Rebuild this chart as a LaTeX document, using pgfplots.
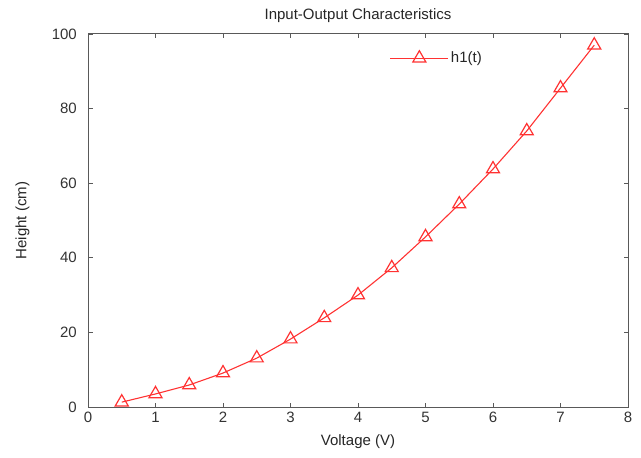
\documentclass[border=0pt]{standalone}
\usepackage{fontspec}
\setmainfont{Liberation Sans}
\usepackage{pgfplots}
\pgfplotsset{compat=1.18}
\definecolor{lred}{RGB}{255,50,50}
\begin{document}
\fontsize{15}{17}\selectfont
\begin{tikzpicture}[x=1pt,y=1pt]
\begin{axis}[
  name=ax,
  scale only axis,
  width=540pt, height=373pt,
  xmin=0, xmax=8, ymin=0, ymax=100,
  xtick={0,1,...,8}, ytick={0,20,...,100},
  /pgf/number format/assume math mode=true,
  tick label style={font=\fontsize{15}{17}\selectfont, black!80},
  yticklabel style={xshift=-6pt},
  label style={font=\fontsize{15}{17}\selectfont, black!85},
  title style={font=\fontsize{15}{17}\selectfont, yshift=0pt, black!85},
  title={Input-Output Characteristics},
  xlabel={Voltage (V)}, ylabel={Height (cm)},
  xlabel style={yshift=-2pt},
  ylabel style={yshift=12pt},
  tick align=inside,
  axis line style={black!65, line width=1pt},
  tick style={black!65, line width=0.9pt},
  major tick length=4.5pt,
  legend style={draw=none, fill=none, at={(0.553,0.935)}, anchor=west, font=\fontsize{15}{17}\selectfont, legend cell align=left, text=black!85},
  legend image code/.code={\draw[#1] (0pt,0pt) -- (58pt,0pt); \draw[#1] plot coordinates {(29pt,0pt)};},
]
\addplot[color=lred, line width=1.1pt, mark=triangle, mark size=7.5pt, mark options={solid, line width=1.2pt}]
coordinates {
(0.5,1.3) (1.0,3.5) (1.5,5.9) (2.0,9.1) (2.5,13.1) (3.0,18.2) (3.5,23.9) (4.0,30.0) (4.5,37.3) (5.0,45.6) (5.5,54.4) (6.0,63.8) (6.5,74.0) (7.0,85.5) (7.5,97.0)
};
\addlegendentry{h1(t)}
\end{axis}
\path (ax.south west) ++(-88pt,-50pt) coordinate (bl);
\path (ax.north east) ++(13pt,34pt) coordinate (tr);
\path (bl) rectangle (tr);
\end{tikzpicture}
\end{document}
